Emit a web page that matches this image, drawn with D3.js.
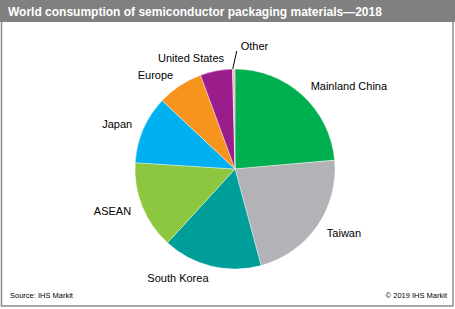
<!DOCTYPE html>
<html>
<head>
<meta charset="utf-8">
<script src="https://cdn.jsdelivr.net/npm/d3@7"></script>
<style>
  html, body { margin: 0; padding: 0; background: #fff; }
  text { font-family: "Liberation Sans", Arial, sans-serif; }
</style>
</head>
<body>
<div id="wrapper"></div>
<script>

// data

const regions = ["Mainland China", "Taiwan", "South Korea", "ASEAN", "Japan", "Europe", "United States", "Other"];
const shares = [23.6, 22.2, 16.0, 14.2, 11.0, 7.4, 5.2, 0.4];
const colors = ["#00b050", "#b3b3b7", "#009e98", "#8dc63f", "#00b0f0", "#f7941d", "#9b1d8b", "#f4b6c2"];

const title = "World consumption of semiconductor packaging materials\u20142018";
const source = "Source: IHS Markit";
const copyright = "\u00a9 2019 IHS Markit";

function drawPie() {

  // dimensions

  const dms = {
    width: 455,
    height: 309,
    titleHeight: 22,
    cx: 235,
    cy: 169,
    radius: 100
  };

  const svg = d3.select("#wrapper")
    .append("svg")
      .attr("width", dms.width)
      .attr("height", dms.height);

  // frame and title bar

  svg.append("rect")
    .attr("x", 1.5)
    .attr("y", 0.5)
    .attr("width", dms.width - 3.5)
    .attr("height", dms.height - 3.5)
    .attr("fill", "#fff")
    .attr("stroke", "#8c8c8c")
    .attr("stroke-width", 1.5);

  svg.append("rect")
    .attr("x", 0)
    .attr("y", 0)
    .attr("width", dms.width)
    .attr("height", dms.titleHeight)
    .attr("fill", "#808080");

  svg.append("text")
    .attr("x", 8)
    .attr("y", 16)
    .attr("fill", "#fff")
    .style("font-size", "12px")
    .style("font-weight", "bold")
    .text(title);

  // pie

  const data = regions.map((r, i) => ({ region: r, value: shares[i], color: colors[i] }));

  const pie = d3.pie()
    .value(d => d.value)
    .sort(null);

  const arcs = pie(data);

  const arc = d3.arc()
    .innerRadius(0)
    .outerRadius(dms.radius);

  const inner = svg.append("g")
    .attr("transform", `translate(${dms.cx},${dms.cy})`);

  inner.selectAll("path")
    .data(arcs)
    .join("path")
      .attr("d", arc)
      .attr("fill", d => d.data.color)
      .attr("stroke", "#fff")
      .attr("stroke-width", 0.4);

  // labels

  const labelRadius = dms.radius + 12;
  const polar = (a, r) => [Math.sin(a) * r, -Math.cos(a) * r];

  arcs.forEach(d => {
    const mid = (d.startAngle + d.endAngle) / 2;
    const small = d.endAngle - d.startAngle < 0.05;

    if (small) {
      // leader line for the tiny slice
      const p0 = polar(mid - 0.01, dms.radius);
      const p1 = [p0[0] + 4, p0[1] - 18];
      inner.append("line")
        .attr("x1", p0[0]).attr("y1", p0[1])
        .attr("x2", p1[0]).attr("y2", p1[1])
        .attr("stroke", "#000")
        .attr("stroke-width", 1);
      inner.append("text")
        .attr("x", p1[0] + 4)
        .attr("y", p1[1] - 5)
        .attr("dy", "0.35em")
        .attr("text-anchor", "start")
        .style("font-size", "11px")
        .attr("fill", "#000")
        .text(d.data.region);
      return;
    }

    // the label nearest the top sits a little further out, as in the source
    const [x, y] = polar(mid, labelRadius);
    const nudge = d.data.region === "United States" ? 10 : 0;
    inner.append("text")
      .attr("x", x + nudge)
      .attr("y", y - (nudge ? 1 : 0))
      .attr("dy", "0.35em")
      .attr("text-anchor", mid < Math.PI ? "start" : "end")
      .style("font-size", "11px")
      .attr("fill", "#000")
      .text(d.data.region);
  });

  // footer

  svg.append("text")
    .attr("x", 10)
    .attr("y", 298)
    .style("font-size", "7.5px")
    .attr("fill", "#000")
    .text(source);

  svg.append("text")
    .attr("x", 447)
    .attr("y", 298)
    .attr("text-anchor", "end")
    .style("font-size", "7.5px")
    .attr("fill", "#000")
    .text(copyright);
}

drawPie();
</script>
</body>
</html>
